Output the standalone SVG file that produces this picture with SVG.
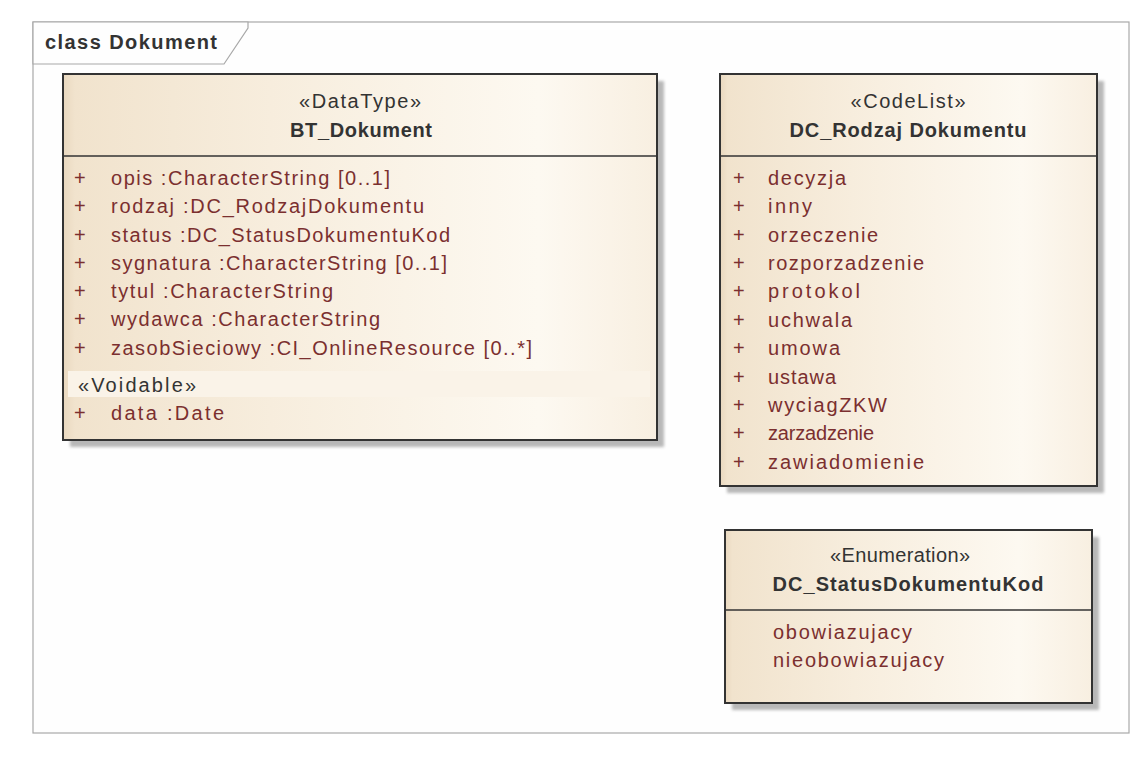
<svg xmlns="http://www.w3.org/2000/svg" width="1142" height="758" viewBox="0 0 1142 758">
<defs>
<linearGradient id="fill" x1="0" y1="0" x2="1" y2="0">
<stop offset="0" stop-color="#e9d8bf"/>
<stop offset="0.02" stop-color="#f1e3cd"/>
<stop offset="0.35" stop-color="#f7eddd"/>
<stop offset="0.8" stop-color="#fdf9f1"/>
<stop offset="1" stop-color="#f8efe1"/>
</linearGradient>
<filter id="blur" x="-5%" y="-5%" width="110%" height="110%"><feGaussianBlur stdDeviation="1.5"/></filter>
<style>
.frame{fill:#fefefe;stroke:#a8a8a8;stroke-width:1.2}
.box{fill:url(#fill);stroke:#333;stroke-width:2}
.shadow{fill:#b8b8b8;filter:url(#blur)}
.sep{stroke:#333;stroke-width:1.5}
.hdr{font-family:"Liberation Sans",Arial,sans-serif;font-size:20px;fill:#333;text-anchor:middle}
.b{font-weight:bold}
.attr{font-family:"Liberation Sans",Arial,sans-serif;font-size:20px;fill:#7b2f2f}
.title{font-family:"Liberation Sans",Arial,sans-serif;font-size:20px;font-weight:bold;fill:#333}
</style>
</defs>
<rect width="1142" height="758" fill="#ffffff"/>
<g id="frame">
<rect class="frame" x="33" y="22" width="1096" height="711"/>
<path class="frame" d="M33,22 H248 V28 L224,64 H33 Z"/>
<text class="title" x="45" y="49" textLength="172" lengthAdjust="spacing">class Dokument</text>
</g>
<g id="connectors"></g>
<g id="BT_Dokument">
<rect class="shadow" x="70" y="81" width="594" height="366"/>
<rect class="box" x="63" y="74" width="594" height="366"/>
<line class="sep" x1="63" y1="156" x2="657" y2="156"/>
<text class="hdr" x="360" y="108" textLength="122" lengthAdjust="spacing">«DataType»</text>
<text class="hdr b" x="361" y="137" textLength="142" lengthAdjust="spacing">BT_Dokument</text>
<g class="attr" xml:space="preserve">
<text x="74" y="185">+</text><text x="111" y="185" textLength="279" lengthAdjust="spacing">opis  :CharacterString [0..1]</text>
<text x="74" y="213">+</text><text x="111" y="213" textLength="313" lengthAdjust="spacing">rodzaj  :DC_RodzajDokumentu</text>
<text x="74" y="242">+</text><text x="111" y="242" textLength="339" lengthAdjust="spacing">status  :DC_StatusDokumentuKod</text>
<text x="74" y="270">+</text><text x="111" y="270" textLength="336" lengthAdjust="spacing">sygnatura  :CharacterString [0..1]</text>
<text x="74" y="298">+</text><text x="111" y="298" textLength="222" lengthAdjust="spacing">tytul  :CharacterString</text>
<text x="74" y="326">+</text><text x="111" y="326" textLength="269" lengthAdjust="spacing">wydawca  :CharacterString</text>
<text x="74" y="355">+</text><text x="111" y="355" textLength="421" lengthAdjust="spacing">zasobSieciowy  :CI_OnlineResource [0..*]</text>
</g>
<rect x="68" y="371" width="582" height="26" fill="#faf3e8"/>
<text class="attr" x="78" y="392" style="fill:#333" textLength="118" lengthAdjust="spacing">«Voidable»</text>
<g class="attr" xml:space="preserve">
<text x="74" y="420">+</text><text x="111" y="420" textLength="113" lengthAdjust="spacing">data  :Date</text>
</g>
</g>
<g id="DC_RodzajDokumentu">
<rect class="shadow" x="727" y="81" width="377" height="412"/>
<rect class="box" x="720" y="74" width="377" height="412"/>
<line class="sep" x1="720" y1="156" x2="1097" y2="156"/>
<text class="hdr" x="908" y="108" textLength="115" lengthAdjust="spacing">«CodeList»</text>
<text class="hdr b" x="908" y="137" textLength="237" lengthAdjust="spacing">DC_Rodzaj Dokumentu</text>
<g class="attr">
<text x="733" y="185">+</text><text x="768" y="185" textLength="78" lengthAdjust="spacing">decyzja</text>
<text x="733" y="213">+</text><text x="768" y="213" textLength="44" lengthAdjust="spacing">inny</text>
<text x="733" y="242">+</text><text x="768" y="242" textLength="110" lengthAdjust="spacing">orzeczenie</text>
<text x="733" y="270">+</text><text x="768" y="270" textLength="156" lengthAdjust="spacing">rozporzadzenie</text>
<text x="733" y="298">+</text><text x="768" y="298" textLength="92" lengthAdjust="spacing">protokol</text>
<text x="733" y="327">+</text><text x="768" y="327" textLength="84" lengthAdjust="spacing">uchwala</text>
<text x="733" y="355">+</text><text x="768" y="355" textLength="72" lengthAdjust="spacing">umowa</text>
<text x="733" y="384">+</text><text x="768" y="384" textLength="68" lengthAdjust="spacing">ustawa</text>
<text x="733" y="412">+</text><text x="768" y="412" textLength="119" lengthAdjust="spacing">wyciagZKW</text>
<text x="733" y="440">+</text><text x="768" y="440" textLength="106" lengthAdjust="spacing">zarzadzenie</text>
<text x="733" y="469">+</text><text x="768" y="469" textLength="156" lengthAdjust="spacing">zawiadomienie</text>
</g>
</g>
<g id="DC_StatusDokumentuKod">
<rect class="shadow" x="732" y="537" width="367" height="173"/>
<rect class="box" x="725" y="530" width="367" height="173"/>
<line class="sep" x1="725" y1="610" x2="1092" y2="610"/>
<text class="hdr" x="900" y="562" textLength="140" lengthAdjust="spacing">«Enumeration»</text>
<text class="hdr b" x="908" y="591" textLength="271" lengthAdjust="spacing">DC_StatusDokumentuKod</text>
<g class="attr">
<text x="773" y="639" textLength="139" lengthAdjust="spacing">obowiazujacy</text>
<text x="773" y="667" textLength="171" lengthAdjust="spacing">nieobowiazujacy</text>
</g>
</g>
</svg>
